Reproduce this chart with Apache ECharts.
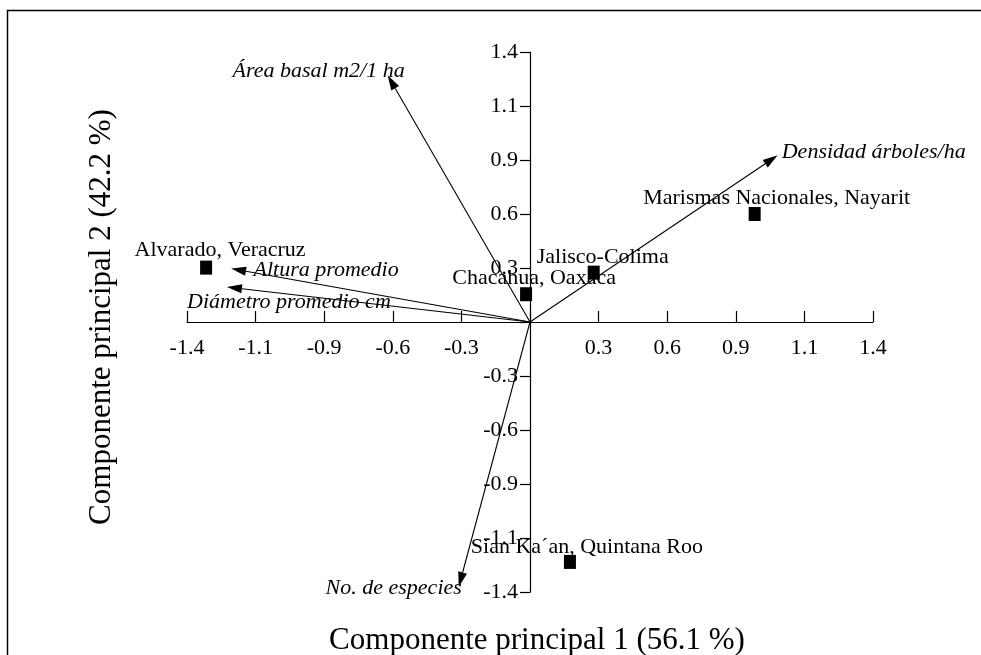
<!DOCTYPE html>
<html>
<head>
<meta charset="utf-8">
<script src="https://cdn.jsdelivr.net/npm/echarts@6.0.0/dist/echarts.min.js"></script>
<style>
  html, body { margin: 0; padding: 0; background: #fff; }
  #chart { width: 981px; height: 655px; }
</style>
</head>
<body>
<div id="chart"></div>
<script>
// sitios (puntuaciones en CP1 / CP2)
const siteNames = ['Marismas Nacionales, Nayarit', 'Jalisco-Colima', 'Chacahua, Oaxaca', 'Alvarado, Veracruz', 'Sian Ka´an, Quintana Roo'];
const siteX = [0.917, 0.26, -0.016, -1.322, 0.163];
const siteY = [0.56, 0.256, 0.144, 0.282, -1.244];

// variables (vectores)
const varNames = ['Área basal m2/1 ha', 'Densidad árboles/ha', 'Altura promedio', 'Diámetro promedio cm', 'No. de especies'];
const varX = [-0.581, 1.011, -1.220, -1.237, -0.291];
const varY = [1.279, 0.864, 0.277, 0.181, -1.374];

// etiquetas de los ejes (el cero no se muestra)
const tickLabels = ['-1.4', '-1.1', '-0.9', '-0.6', '-0.3', '', '0.3', '0.6', '0.9', '1.1', '1.4'];
const step = 0.28;

// desplazamientos de las etiquetas (px)
const siteLabelOffsets = [[22, -16], [9, -15], [8, -16], [14, -17], [17, -15]];
const varLabelOffsets = [[-69, -4], [96, -3], [95, 2], [62, 15], [-65, 1]];

const serif = '"Liberation Serif", "Times New Roman", serif';
const tickText = (v) => tickLabels[Math.round(v / step) + 5] || '';

// rejilla: los ejes se cruzan en el origen (centro)
const gridLeft = 187, gridRight = 108, gridTop = 52, gridBottom = 63;
const plotW = 981 - gridLeft - gridRight;
const plotH = 655 - gridTop - gridBottom;

const chart = echarts.init(document.getElementById('chart'), null, { renderer: 'canvas' });

chart.setOption({
  animation: false,
  backgroundColor: '#fff',
  grid: { left: gridLeft, right: gridRight, top: gridTop, bottom: gridBottom },
  xAxis: {
    type: 'value',
    position: 'bottom',
    offset: -plotH / 2,
    min: -1.4,
    max: 1.4,
    interval: step,
    axisLine: { onZero: false, lineStyle: { color: '#000', width: 1.2 } },
    axisTick: { inside: true, length: 11, lineStyle: { color: '#000', width: 1.2 } },
    axisLabel: {
      formatter: tickText, color: '#000', fontFamily: serif, fontSize: 22,
      margin: 15, showMinLabel: true, showMaxLabel: true
    },
    splitLine: { show: false }
  },
  yAxis: {
    type: 'value',
    position: 'left',
    offset: -plotW / 2,
    min: -1.4,
    max: 1.4,
    interval: step,
    axisLine: { onZero: false, lineStyle: { color: '#000', width: 1.2 } },
    axisTick: { inside: false, length: 10, lineStyle: { color: '#000', width: 1.2 } },
    axisLabel: {
      formatter: tickText, color: '#000', fontFamily: serif, fontSize: 22,
      margin: 12, showMinLabel: true, showMaxLabel: true
    },
    splitLine: { show: false }
  },
  graphic: [
    {
      type: 'rect', silent: true, z: -1,
      shape: { x: 7.5, y: 10.5, width: 1200, height: 900 },
      style: { fill: 'none', stroke: '#000', lineWidth: 1.5 }
    },
    {
      type: 'text', silent: true, x: 537, y: 641,
      style: { text: 'Componente principal 1 (56.1 %)', font: '31px ' + serif, fill: '#000', align: 'center', verticalAlign: 'middle' }
    },
    {
      type: 'text', silent: true, x: 102, y: 317, rotation: Math.PI / 2,
      style: { text: 'Componente principal 2 (42.2 %)', font: '31px ' + serif, fill: '#000', align: 'center', verticalAlign: 'middle' }
    }
  ],
  series: [
    {
      name: 'Variables',
      type: 'custom',
      clip: false,
      silent: true,
      data: varX.map((x, i) => [x, varY[i]]),
      encode: { x: 0, y: 1 },
      renderItem: (params, api) => {
        const p0 = api.coord([0, 0]);
        const p1 = api.coord([api.value(0), api.value(1)]);
        const dx = p1[0] - p0[0], dy = p1[1] - p0[1];
        const len = Math.hypot(dx, dy);
        const ux = dx / len, uy = dy / len;
        const hl = 15, hw = 4.5;
        const bx = p1[0] - ux * hl, by = p1[1] - uy * hl;
        const off = varLabelOffsets[params.dataIndex];
        return {
          type: 'group',
          children: [
            { type: 'line', shape: { x1: p0[0], y1: p0[1], x2: bx, y2: by }, style: { stroke: '#000', lineWidth: 1.1 } },
            {
              type: 'polygon',
              shape: { points: [[p1[0], p1[1]], [bx - uy * hw, by + ux * hw], [bx + uy * hw, by - ux * hw]] },
              style: { fill: '#000' }
            },
            {
              type: 'text', x: p1[0] + off[0], y: p1[1] + off[1],
              style: {
                text: varNames[params.dataIndex], font: 'italic 22px ' + serif,
                fill: '#000', align: 'center', verticalAlign: 'middle'
              }
            }
          ]
        };
      }
    },
    {
      name: 'Sitios',
      type: 'scatter',
      symbol: 'rect',
      symbolSize: [12, 14],
      itemStyle: { color: '#000', opacity: 1 },
      data: siteX.map((x, i) => ({
        value: [x, siteY[i]],
        name: siteNames[i],
        label: { offset: siteLabelOffsets[i] }
      })),
      label: {
        show: true,
        position: 'inside',
        formatter: (p) => p.name,
        color: '#000',
        fontFamily: serif,
        fontSize: 22
      },
      z: 3
    }
  ]
});
</script>
</body>
</html>
